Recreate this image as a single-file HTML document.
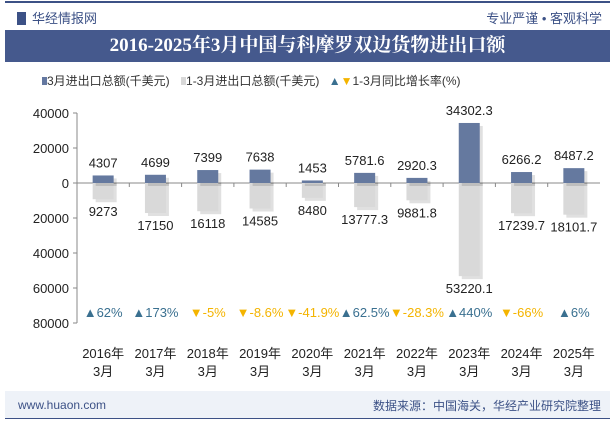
<!DOCTYPE html>
<html><head><meta charset="utf-8"><style>
body{margin:0;width:615px;height:427px;background:#fff;font-family:"Liberation Sans","Noto Sans CJK SC",sans-serif;overflow:hidden;position:relative}
.abs{position:absolute}
</style></head><body>
<div class="abs" style="left:5px;top:1px;width:605px;height:2px;background:#3c5186"></div>
<div class="abs" style="left:17px;top:8px;font-size:13px;color:#3c5186"><span style="display:inline-block;width:9px;height:13px;background:#3c5186;vertical-align:-2px;margin-right:6px"></span>华经情报网</div>
<div class="abs" style="right:13px;top:8px;font-size:13px;color:#3c5186">专业严谨 • 客观科学</div>
<div class="abs" style="left:5px;right:5px;top:30px;height:32px;background:#45598d;color:#fff;font-family:'Liberation Serif','Noto Serif CJK SC',serif;font-weight:bold;font-size:19px;line-height:32px;text-align:center">2016-2025年3月中国与科摩罗双边货物进出口额</div>
<div class="abs" style="left:42px;top:72px;font-size:12px;color:#333;white-space:nowrap">
<span><span style="display:inline-block;width:5px;height:8px;background:#6478a0"></span>3月进出口总额(千美元)</span>
<span style="margin-left:8px"><span style="display:inline-block;width:5px;height:8px;background:#d8d8d8"></span>1-3月进出口总额(千美元)</span>
<span style="margin-left:6px"><span style="color:#3a7090">▲</span><span style="color:#f4b400">▼</span>1-3月同比增长率(%)</span>
</div>
<svg class="abs" style="left:0;top:0" width="615" height="427" id="chart"></svg>
<div class="abs" style="left:5px;right:5px;top:391px;height:27px;background:#eef2f8"></div>
<div class="abs" style="left:5px;right:5px;top:418px;height:1px;background:#3c5186"></div>
<div class="abs" style="left:18px;top:398px;font-size:12px;color:#3c5186">www.huaon.com</div>
<div class="abs" style="right:14px;top:397px;font-size:12px;color:#3c5186">数据来源：中国海关，华经产业研究院整理</div>
<script>
const categories=["2016年","2017年","2018年","2019年","2020年","2021年","2022年","2023年","2024年","2025年"];
const monthly=[4307,4699,7399,7638,1453,5781.6,2920.3,34302.3,6266.2,8487.2];
const cumulative=[9273,17150,16118,14585,8480,13777.3,9881.8,53220.1,17239.7,18101.7];
const growth=[62,173,-5,-8.6,-41.9,62.5,-28.3,440,-66,6];
const ticks=[40000,20000,0,20000,40000,60000,80000];
const tickVals=[40000,20000,0,-20000,-40000,-60000,-80000];
const svg=document.getElementById('chart');const NS='http://www.w3.org/2000/svg';
const x0=77,x1=600,y=v=>183-v*70/40000;const bw=(x1-x0)/categories.length;const cx=i=>x0+bw*(i+0.5);
function mk(t,a,txt){const e=document.createElementNS(NS,t);for(const k in a)e.setAttribute(k,a[k]);if(txt!=null)e.textContent=txt;svg.appendChild(e);return e;}
let e=mk('line',{x1:x0,x2:x0,y1:y(40000),y2:y(-80000),stroke:'#888'});

tickVals.forEach((v,i)=>{mk('line',{x1:x0-4,x2:x0,y1:y(v),y2:y(v),stroke:'#888'});
 e=mk('text',{x:x0-8,y:y(v)+5,'text-anchor':'end','font-size':13,fill:'#222'},ticks[i]);
 });
e=mk('line',{x1:x0,x2:x1,y1:y(0),y2:y(0),stroke:'#888'});

categories.forEach((c,i)=>{const X=cx(i);
 if(i>0)mk('line',{x1:x0+bw*i,x2:x0+bw*i,y1:y(0),y2:y(0)+4,stroke:'#888'});
 const w=21;
 mk('rect',{x:X-w/2+3,y:y(0),width:w,height:y(-cumulative[i])-y(0)+3,fill:'#000',opacity:0.12});
 e=mk('rect',{x:X-w/2,y:y(0),width:w,height:y(-cumulative[i])-y(0),fill:'#d9d9d9'});
 
 mk('rect',{x:X-w/2+3,y:y(monthly[i])+3,width:w,height:y(0)-y(monthly[i]),fill:'#000',opacity:0.12});
 e=mk('rect',{x:X-w/2,y:y(monthly[i]),width:w,height:y(0)-y(monthly[i]),fill:'#65799f'});
 
 e=mk('text',{x:X,y:y(monthly[i])-8,'text-anchor':'middle','font-size':13,fill:'#222'},String(monthly[i]));
 
 e=mk('text',{x:X,y:y(-cumulative[i])+17,'text-anchor':'middle','font-size':13,fill:'#222'},String(cumulative[i]));
 
 const up=growth[i]>=0;
 e=mk('text',{x:X,y:317,'text-anchor':'middle','font-size':13,fill:up?'#3a7090':'#f4b400'},(up?'▲':'▼')+growth[i]+'%');
 
 e=mk('text',{x:X,y:358,'text-anchor':'middle','font-size':13,fill:'#222'},c);
 
 e=mk('text',{x:X,y:376,'text-anchor':'middle','font-size':13,fill:'#222'},'3月');
 
});
</script>
</body></html>
